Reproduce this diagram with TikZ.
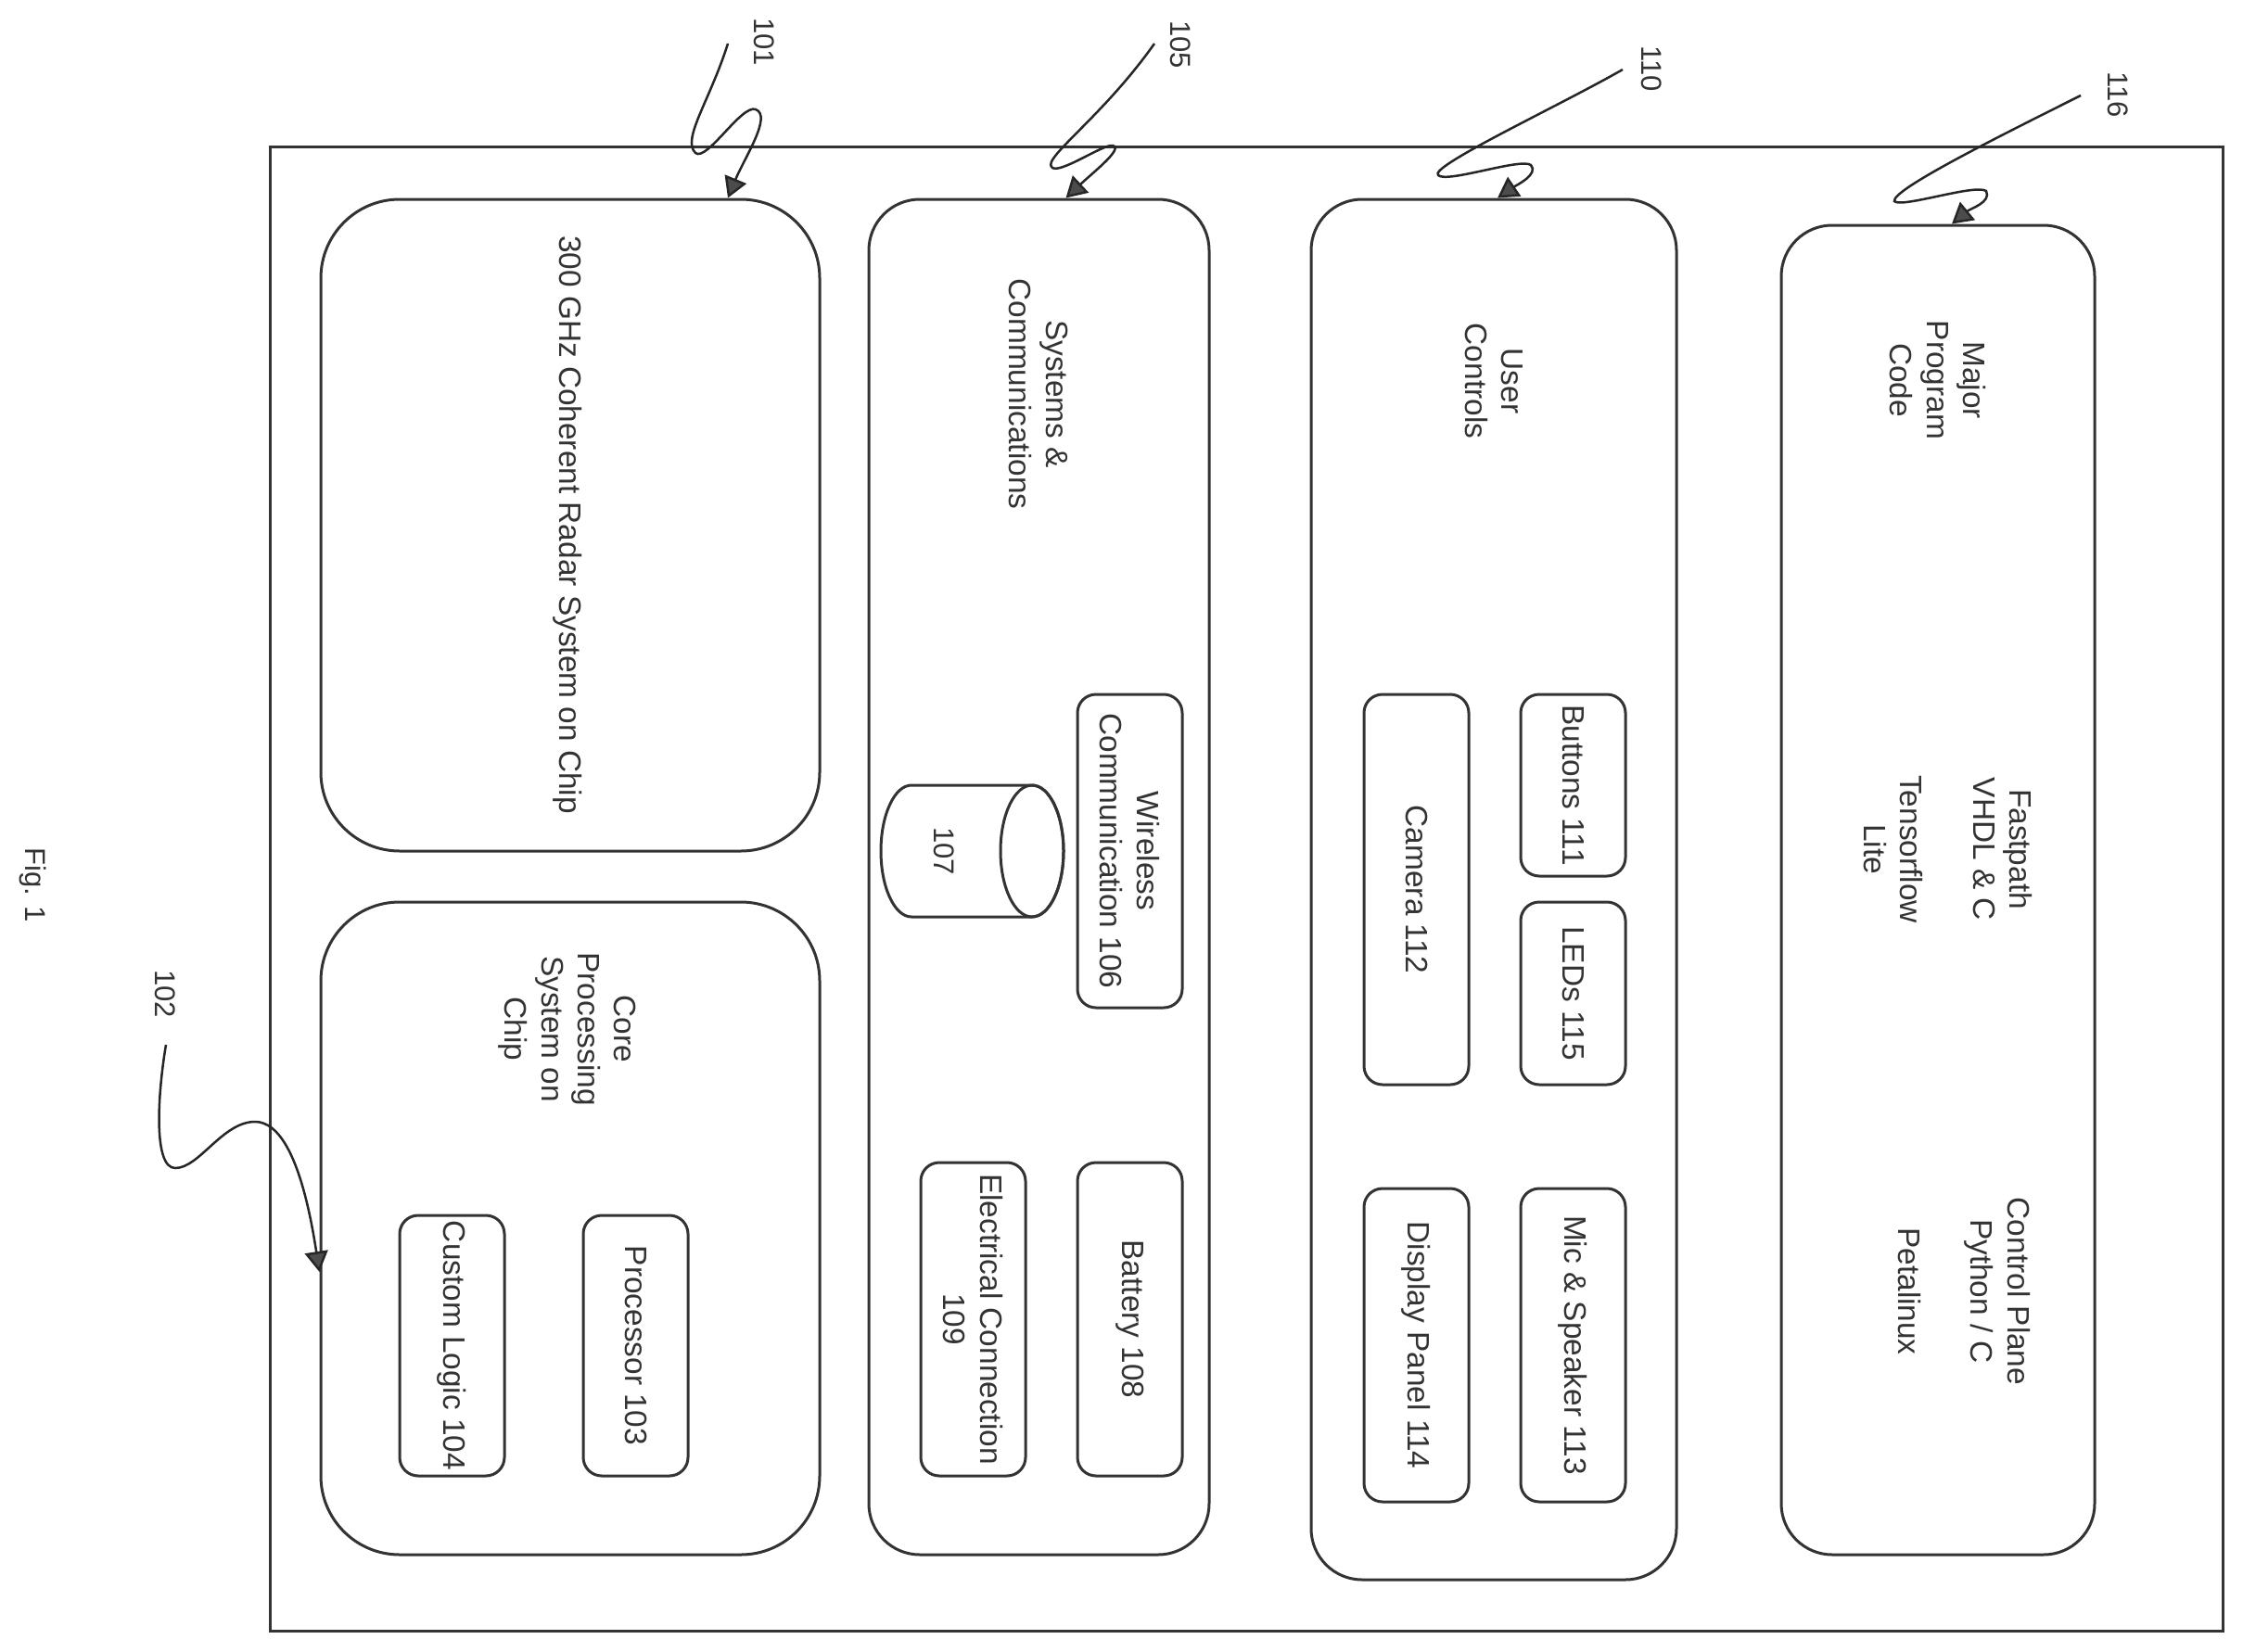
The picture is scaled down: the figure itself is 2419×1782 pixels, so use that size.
\documentclass[tikz,border=0pt]{standalone}
\usepackage{fontspec}
\setmainfont{Liberation Sans}
\usetikzlibrary{arrows.meta,calc}
\tikzset{
  x=1pt,y=-1pt,
  ink/.style={draw=black!80,line width=3pt},
  lab/.style={rotate=-90,text=black!80,font=\fontsize{33.4}{39.3}\selectfont,align=center,inner sep=0pt},
  numlab/.style={lab,font=\fontsize{31}{40}\selectfont},
  boxtxt/.style={ink,rounded corners=#1,rotate=-90,inner sep=0pt,anchor=center,text=black!80,font=\fontsize{33.4}{39.3}\selectfont,align=center},
  lead/.style={draw=black!85,line width=2.5pt,-{Triangle[length=22pt,width=25pt,fill=black!70]}},
}
% #1 name #2 x1 #3 y1 #4 x2 #5 y2 #6 radius #7 text
\newcommand{\rbox}[7]{%
  \pgfmathsetmacro{\bw}{#5-#3}\pgfmathsetmacro{\bh}{#4-#2}%
  \node[boxtxt=#6pt,minimum width=\bw pt,minimum height=\bh pt] (#1) at ({(#2+#4)/2},{(#3+#5)/2}) {#7};%
}
\begin{document}
\begin{tikzpicture}
\useasboundingbox (0,0) rectangle (2419,1782);
\node[ink,rectangle,minimum width=2106pt,minimum height=1601pt,inner sep=0pt] (frame) at (1344,958.5) {};
\rbox{radar}{346}{215}{884}{918}{85}{}
\node[lab] (tradar) at (612,566) {300 GHz Coherent Radar System on Chip};
\rbox{core}{346}{973}{884}{1677}{85}{}
\rbox{sys}{937}{215}{1304}{1677}{55}{}
\rbox{user}{1414}{215}{1808}{1704}{55}{}
\rbox{major}{1921}{243}{2259}{1677}{55}{}
\rbox{logic}{431}{1311}{544}{1592}{20}{Custom Logic 104}
\rbox{proc}{629}{1311}{742}{1592}{20}{Processor 103}
\rbox{wire}{1162}{749}{1275}{1087}{20}{Wireless\\Communication 106}
\rbox{batt}{1162}{1254}{1275}{1592}{20}{Battery 108}
\rbox{elec}{993}{1254}{1106}{1592}{20}{Electrical Connection\\109}
\rbox{btn}{1640}{749}{1753}{945}{20}{Buttons 111}
\rbox{led}{1640}{973}{1753}{1170}{20}{LEDs 115}
\rbox{cam}{1471}{749}{1584}{1170}{20}{Camera 112}
\rbox{disp}{1471}{1282}{1584}{1620}{20}{Display Panel 114}
\rbox{mic}{1640}{1282}{1753}{1620}{20}{Mic \& Speaker 113}
% cylinder
\draw[ink] (983,847) -- (1113,847) arc[start angle=90,end angle=-90,x radius=34pt,y radius=71pt] -- (983,989) arc[start angle=270,end angle=90,x radius=33pt,y radius=71pt] -- cycle;
\draw[ink] (1113,918) ellipse [x radius=34pt,y radius=71pt];
\node[numlab] (n107) at (1018,918) {107};
% free labels
\node[lab] (tcore) at (612,1110) {Core\\Processing\\System on\\Chip};
\node[lab] (tsys) at (1120,425) {Systems \&\\Communications};
\node[lab] (tuser) at (1611,411) {User\\Controls};
\node[lab] (tmajor) at (2090,410) {Major\\Program\\Code};
\node[lab] (tfast) at (2101,916) {Fastpath\\VHDL \& C\\\mbox{}\\Tensorflow\\Lite};
\node[lab] (tctrl) at (2118,1393) {Control Plane\\Python / C\\\mbox{}\\Petalinux};
\node[numlab] (l101) at (824,45) {101};
\node[numlab] (l105) at (1273,48) {105};
\node[numlab] (l110) at (1781,74) {110};
\node[numlab] (l116) at (2284,102) {116};
\node[numlab] (l102) at (178,1072) {102};
\node[numlab] (lfig) at (36,955) {Fig. 1};
% leaders
\coordinate (s101) at (785,47);
\coordinate (s105) at (1245,47);
\coordinate (s110) at (1750,75);
\coordinate (s116) at (2244,103);
\coordinate (s102) at (179,1127);
\draw[lead] (s101) .. controls (765,110) and (735,150) .. (750,165) .. controls (762,175) and (800,112) .. (815,118) .. controls (833,125) and (803,170) .. ([xshift=170pt]radar.west);
\draw[lead] (s105) .. controls (1190,125) and (1125,170) .. (1134,180) .. controls (1140,190) and (1190,155) .. (1200,157) .. controls (1212,160) and (1180,185) .. ([xshift=29pt]sys.west);
\draw[lead] (s110) .. controls (1680,115) and (1540,180) .. (1551,189) .. controls (1560,198) and (1640,170) .. (1651,178) .. controls (1660,188) and (1635,200) .. ([xshift=4pt]user.west);
\draw[lead] (s116) .. controls (2150,150) and (2040,205) .. (2043,217) .. controls (2050,225) and (2130,198) .. (2142,206) .. controls (2148,218) and (2125,225) .. ([xshift=15pt]major.west);
\draw[lead] (s102) .. controls (170,1180) and (165,1260) .. (189,1260) .. controls (215,1260) and (240,1210) .. (275,1210) .. controls (300,1210) and (325,1245) .. ([yshift=-47pt]core.south);
\end{tikzpicture}
\end{document}
